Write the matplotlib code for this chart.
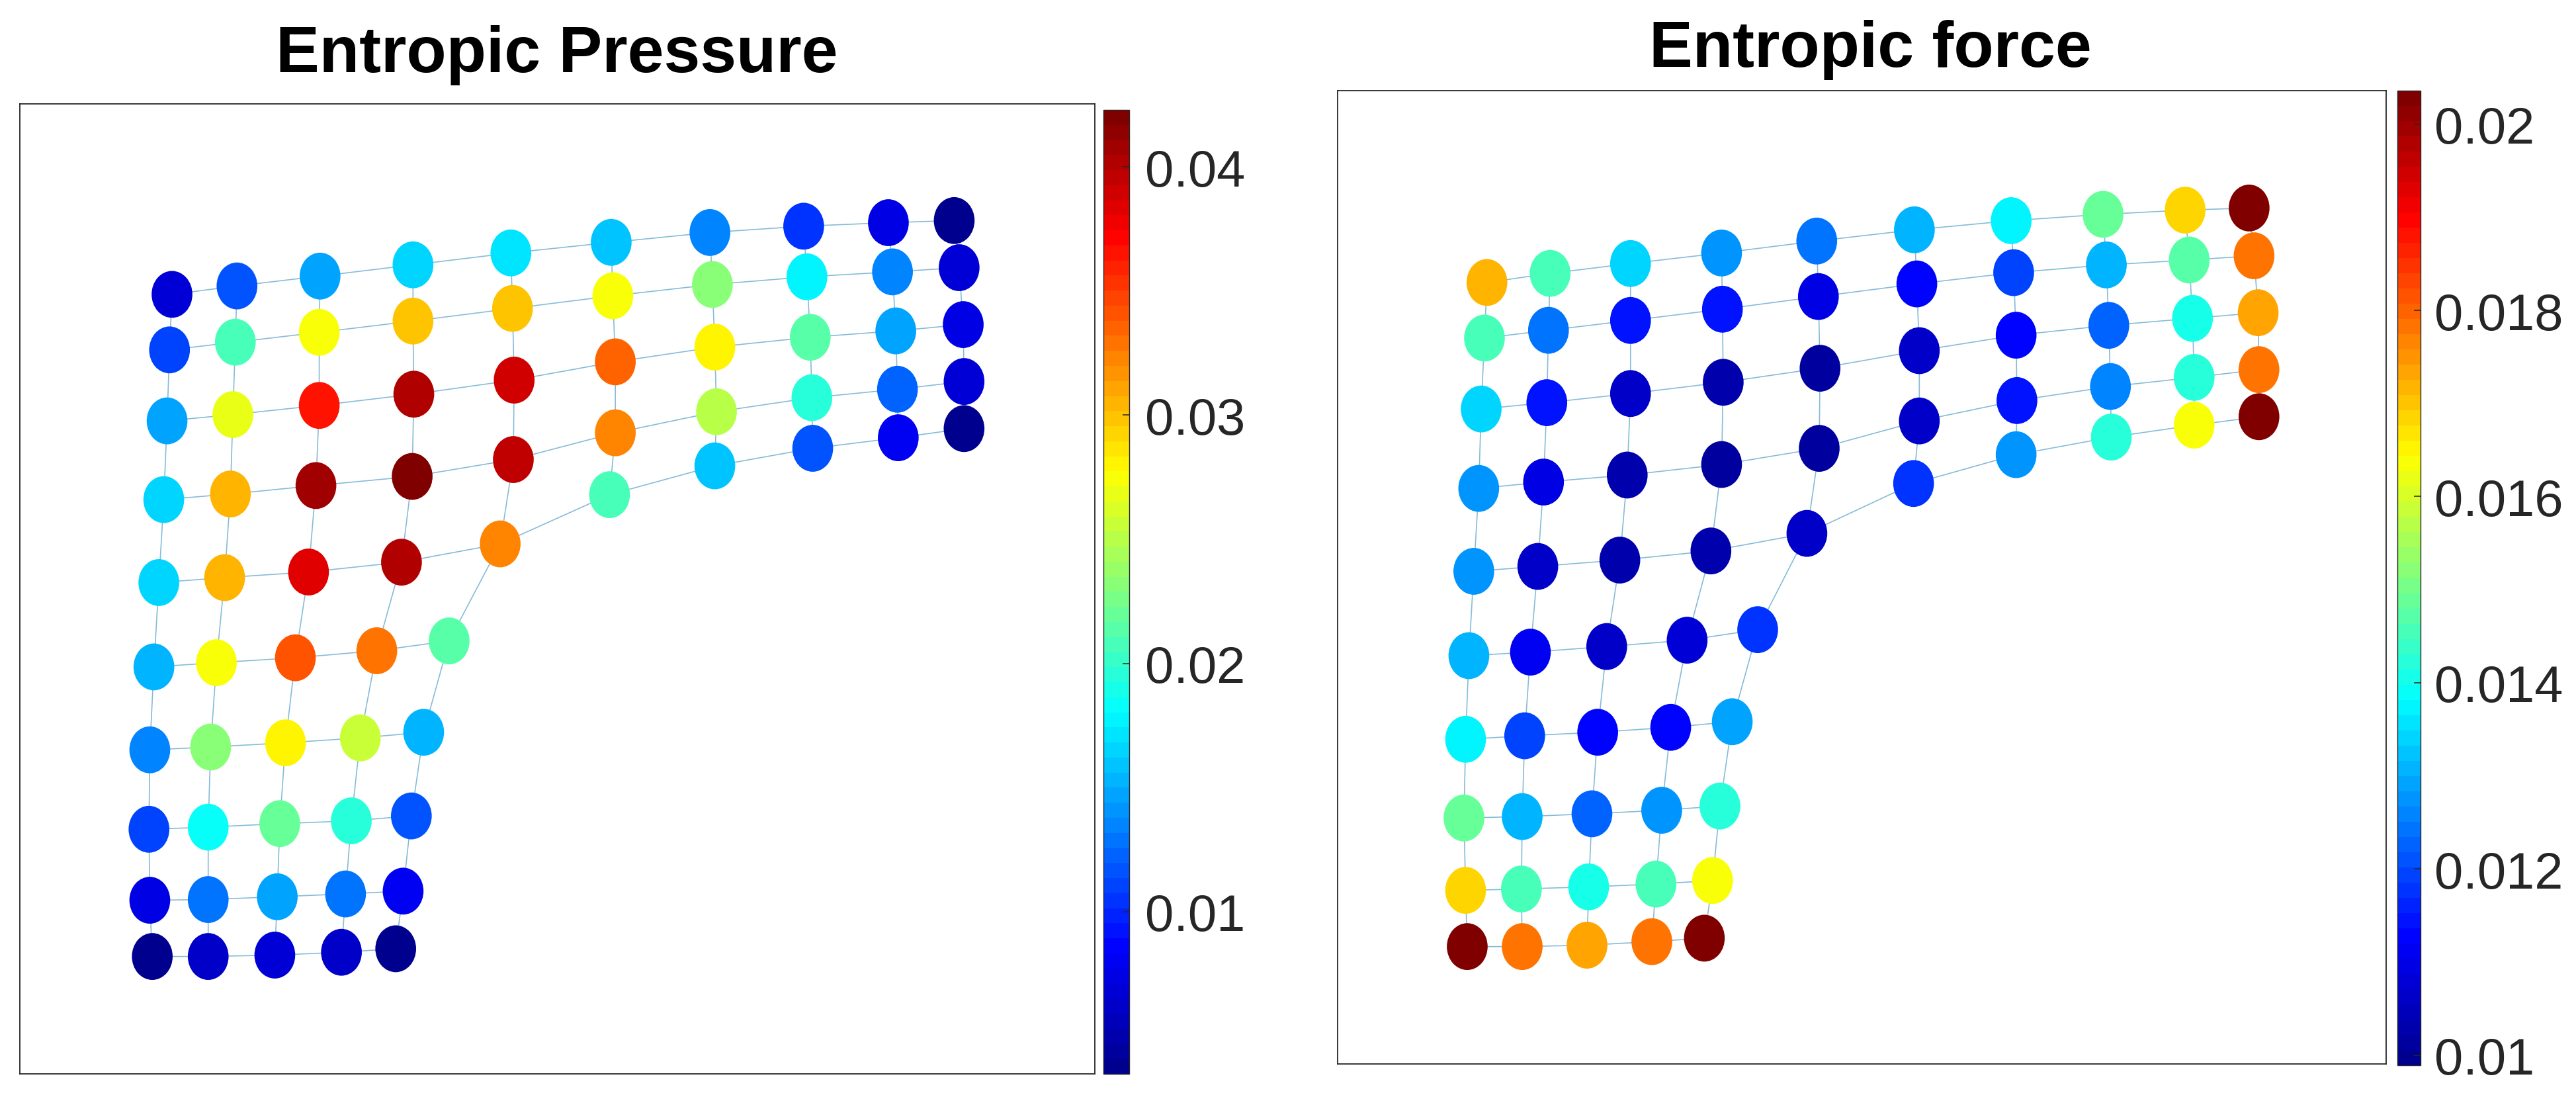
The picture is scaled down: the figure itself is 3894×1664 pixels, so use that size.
#!/usr/bin/env python3
import numpy as np
import matplotlib
matplotlib.use('Agg')
import matplotlib.pyplot as plt
from matplotlib.colors import LinearSegmentedColormap
from matplotlib.path import Path
from matplotlib.transforms import Affine2D

W, H = 3894, 1665
plt.rcParams['font.family'] = ['Liberation Sans', 'DejaVu Sans']

# node positions and values per mesh row, top row first
p_x = [
    [209, 288, 389, 502, 621, 743, 863, 977, 1080, 1160],
    [206, 286, 388, 502, 623, 745, 866, 981, 1085, 1166],
    [203, 283, 388, 503, 625, 748, 869, 985, 1089, 1171],
    [199, 280, 384, 501, 624, 748, 871, 987, 1091, 1172],
    [193, 273, 375, 488, 608, 741, 869, 988, 1092, 1172],
    [187, 263, 359, 458, 546],
    [182, 256, 347, 438, 515],
    [181, 253, 340, 427, 500],
    [182, 253, 337, 420, 490],
    [185, 253, 334, 415, 481],
]
p_y = [
    [420, 408, 394, 378, 361, 346, 332, 323, 318, 315],
    [499, 488, 474, 458, 440, 422, 406, 395, 388, 382],
    [600, 591, 578, 562, 542, 516, 495, 481, 472, 463],
    [712, 704, 692, 679, 655, 617, 587, 567, 555, 544],
    [830, 823, 815, 801, 775, 705, 664, 639, 624, 611],
    [950, 944, 937, 927, 913],
    [1068, 1064, 1058, 1051, 1043],
    [1181, 1178, 1173, 1169, 1162],
    [1282, 1281, 1277, 1273, 1269],
    [1362, 1362, 1360, 1356, 1351],
]
p_val = [
    [.0066, .0115, .0145, .0165, .0170, .0158, .0135, .0105, .0072, .0037],
    [.0112, .0207, .0274, .0298, .0298, .0272, .0233, .0178, .0135, .0066],
    [.0145, .0269, .0365, .0403, .0391, .0338, .0278, .0212, .0145, .0072],
    [.0165, .0303, .0408, .0423, .0394, .0323, .0250, .0193, .0125, .0066],
    [.0165, .0303, .0384, .0401, .0323, .0207, .0158, .0118, .0079, .0037],
    [.0155, .0274, .0340, .0328, .0212],
    [.0135, .0233, .0280, .0254, .0155],
    [.0108, .0182, .0217, .0193, .0118],
    [.0072, .0130, .0145, .0130, .0083],
    [.0038, .0060, .0068, .0064, .0038],
]
p_ticks = [0.01, 0.02, 0.03, 0.04]
p_ticklabels = ['0.01', '0.02', '0.03', '0.04']

f_x = [
    [240, 317, 415, 526, 642, 761, 879, 991, 1091, 1169],
    [237, 315, 415, 527, 644, 764, 882, 995, 1096, 1175],
    [233, 313, 415, 528, 646, 767, 885, 998, 1100, 1180],
    [230, 309, 411, 526, 645, 767, 886, 1000, 1102, 1181],
    [224, 302, 402, 513, 630, 760, 885, 1001, 1102, 1181],
    [218, 293, 386, 484, 570],
    [214, 286, 375, 464, 539],
    [212, 283, 368, 453, 524],
    [214, 282, 364, 446, 515],
    [216, 283, 362, 441, 505],
]
f_y = [
    [403, 390, 376, 361, 344, 328, 315, 306, 300, 297],
    [482, 471, 457, 441, 423, 405, 389, 378, 371, 365],
    [583, 574, 561, 545, 525, 500, 478, 464, 454, 446],
    [696, 687, 677, 662, 639, 600, 571, 551, 538, 527],
    [814, 807, 798, 785, 760, 689, 648, 623, 606, 594],
    [934, 929, 921, 912, 897],
    [1053, 1048, 1043, 1036, 1028],
    [1165, 1163, 1159, 1154, 1148],
    [1268, 1266, 1263, 1259, 1254],
    [1348, 1348, 1346, 1341, 1336],
]
f_val = [
    [.0172, .0146, .0134, .0128, .0125, .0130, .0138, .0149, .0169, .0204],
    [.0145, .0124, .0115, .0114, .0110, .0112, .0119, .0130, .0147, .0178],
    [.0134, .0114, .0106, .0103, .0102, .0106, .0112, .0123, .0141, .0174],
    [.0128, .0110, .0103, .0102, .0102, .0107, .0114, .0126, .0143, .0178],
    [.0127, .0107, .0103, .0103, .0106, .0118, .0128, .0142, .0164, .0203],
    [.0130, .0111, .0107, .0108, .0118],
    [.0138, .0120, .0112, .0112, .0129],
    [.0149, .0130, .0123, .0127, .0142],
    [.0168, .0146, .0141, .0145, .0164],
    [.0204, .0179, .0174, .0178, .0202],
]
f_ticks = [0.01, 0.012, 0.014, 0.016, 0.018, 0.02]
f_ticklabels = ['0.01', '0.012', '0.014', '0.016', '0.018', '0.02']

fig = plt.figure(figsize=(W / 100, H / 100), dpi=100)
# matlab flavour of jet, yellow sits lower than in matplotlib's
jet64 = LinearSegmentedColormap.from_list('mjet', [
    (0.0, (0, 0, 0.5625)), (0.125, (0, 0, 1)), (0.375, (0, 1, 1)),
    (0.625, (1, 1, 0)), (0.875, (1, 0, 0)), (1.0, (0.5, 0, 0))], N=64)
# nodes are slightly taller than wide
egg = Path.unit_circle().transformed(Affine2D().scale(0.87, 1.0))
dark = '#262626'
edge = '#86bcd8'


def box(x0, x1, y0, y1):
    return [x0 / W, 1 - y1 / H, (x1 - x0) / W, (y1 - y0) / H]


def panel(xs, ys, vals, rect, crect, lims, vmin, vmax, ticks, labels, pad):
    ax = fig.add_axes(box(*rect))
    # mesh edges
    for r in range(len(xs)):
        ax.plot(xs[r], ys[r], color=edge, lw=1.2, zorder=1)
    for c in range(10):
        col = [r for r in range(len(xs)) if c < len(xs[r])]
        ax.plot([xs[r][c] for r in col], [ys[r][c] for r in col], color=edge, lw=1.2, zorder=1)
    sc = ax.scatter(np.concatenate(xs), np.concatenate(ys), c=np.concatenate(vals), cmap=jet64,
                    vmin=vmin, vmax=vmax, s=2600, marker=egg, linewidths=0, zorder=2)
    ax.set_xlim(lims[0], lims[1])
    ax.set_ylim(lims[2], lims[3])
    ax.set_xticks([])
    ax.set_yticks([])
    for sp in ax.spines.values():
        sp.set_linewidth(1.3)
        sp.set_color(dark)

    cax = fig.add_axes(box(*crect))
    cb = fig.colorbar(sc, cax=cax)
    cb.set_ticks(ticks, labels=labels)
    cb.ax.tick_params(direction='in', length=7, width=1.1, color=dark, pad=pad,
                      labelsize=56, labelcolor=dark)
    cb.outline.set_linewidth(1.0)
    cb.outline.set_edgecolor(dark)


panel(p_x, p_y, p_val, (30, 1655, 158, 1624), (1668, 1707, 167, 1624),
      (24, 1331, 1529, 149), 0.00346, 0.0423, p_ticks, p_ticklabels, 17)
panel(f_x, f_y, f_val, (2022, 3607, 138, 1609), (3624, 3659, 138, 1611),
      (58, 1336, 1515, 130), 0.00989, 0.02036, f_ticks, f_ticklabels, 15)

fig.text(842 / W, 1 - 109 / H, 'Entropic Pressure', fontsize=71, fontweight='bold',
         ha='center', va='baseline', color='black')
fig.text(2827 / W, 1 - 101 / H, 'Entropic force', fontsize=71, fontweight='bold',
         ha='center', va='baseline', color='black')

fig.savefig('out.png', dpi=100)
